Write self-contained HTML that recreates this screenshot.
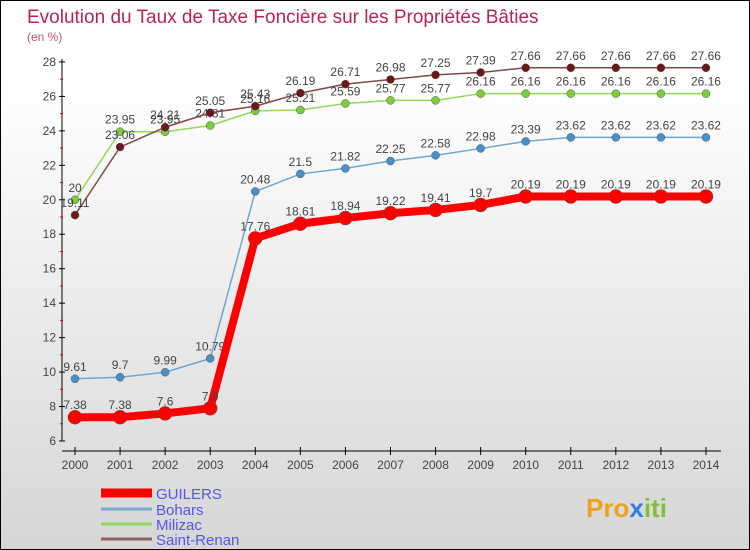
<!DOCTYPE html>
<html><head><meta charset="utf-8"><style>
body{margin:0}
#c{width:748px;height:548px;border:1px solid #000;background:linear-gradient(#ffffff,#ffffff 15%,#d6d6d6);position:relative;overflow:hidden;font-family:"Liberation Sans","DejaVu Sans",sans-serif}
</style></head><body>
<div id="c">
<svg id="s" width="748" height="548">
<text x="26" y="22" font-size="19" fill="#b82456">Evolution du Taux de Taxe Foncière sur les Propriétés Bâties</text>
<text x="26" y="40" font-size="12" fill="#c05070">(en %)</text>
<text x="585" y="516" font-size="26" font-weight="bold" fill="#f0a020">Pro<tspan fill="#3080e0">x</tspan><tspan fill="#80c040">iti</tspan></text>
</svg></div>
<script>
const years=[2000,2001,2002,2003,2004,2005,2006,2007,2008,2009,2010,2011,2012,2013,2014];
const guilers=[7.38,7.38,7.6,7.9,17.76,18.61,18.94,19.22,19.41,19.7,20.19,20.19,20.19,20.19,20.19];
const bohars=[9.61,9.7,9.99,10.79,20.48,21.5,21.82,22.25,22.58,22.98,23.39,23.62,23.62,23.62,23.62];
const milizac=[20,23.95,23.95,24.31,25.16,25.21,25.59,25.77,25.77,26.16,26.16,26.16,26.16,26.16,26.16];
const renan=[19.11,23.06,24.21,25.05,25.43,26.19,26.71,26.98,27.25,27.39,27.66,27.66,27.66,27.66,27.66];
const yTicks=[6,8,10,12,14,16,18,20,22,24,26,28];
const ns="http://www.w3.org/2000/svg",s=document.getElementById('s');
const X=i=>74+i*45.07, Y=v=>440-(v-6)*17.23;
function el(t,a,p){const e=document.createElementNS(ns,t);for(const k in a)e.setAttribute(k,a[k]);(p||s).appendChild(e);return e;}
function txt(x,y,t,a,p){const e=el('text',Object.assign({x:x,y:y,'font-size':12,fill:'#444'},a),p);e.textContent=t;return e;}
let ax=el('line',{x1:61,y1:58,x2:61,y2:440,stroke:'#000'});

let bx=el('line',{x1:61,y1:450,x2:720,y2:450,stroke:'#000'});

yTicks.forEach(v=>{el('line',{x1:58,y1:Y(v),x2:64,y2:Y(v),stroke:'#000'});
 let t=txt(55,Y(v)+4,v,{'text-anchor':'end'});
 if(v<28)el('line',{x1:59,y1:Y(v+1),x2:62,y2:Y(v+1),stroke:'#e00'});});
years.forEach((y,i)=>{el('line',{x1:X(i),y1:446,x2:X(i),y2:454,stroke:'#000'});
 let t=txt(X(i),468,y,{'text-anchor':'middle'});});
function series(d,col,w,r,name,fill){
 const g=el('g',{});
 el('polyline',{points:d.map((v,i)=>X(i)+','+Y(v)).join(' '),fill:'none',stroke:col,'stroke-width':w},g);
 d.forEach((v,i)=>{const c=el('circle',{cx:X(i),cy:Y(v),r:r,fill:fill,stroke:'#555','stroke-width':0.5},g);
  
  const t=txt(X(i),Y(v)-8,String(v),{'text-anchor':'middle'},g);});
}
series(milizac,'#90d860',1.5,4,'milizac','#7ccc3c');
series(renan,'#804848',1.5,4,'saint-renan','#6a1818');
series(bohars,'#6ea8d0',1.5,4,'bohars','#4a90c8');
series(guilers,'#f00',8,7,'guilers','#f00');
const legend=[['GUILERS','#f00',9,492],['Bohars','#7aa8cc',3,508],['Milizac','#90d860',3,523],['Saint-Renan','#906060',3,538]];
legend.forEach(l=>{const g=el('g',{});
 el('line',{x1:100,y1:l[3],x2:151,y2:l[3],stroke:l[1],'stroke-width':l[2]},g);
 txt(155,l[3]+6,l[0],{fill:'#5555ee','font-size':15},g);});
</script></body></html>
